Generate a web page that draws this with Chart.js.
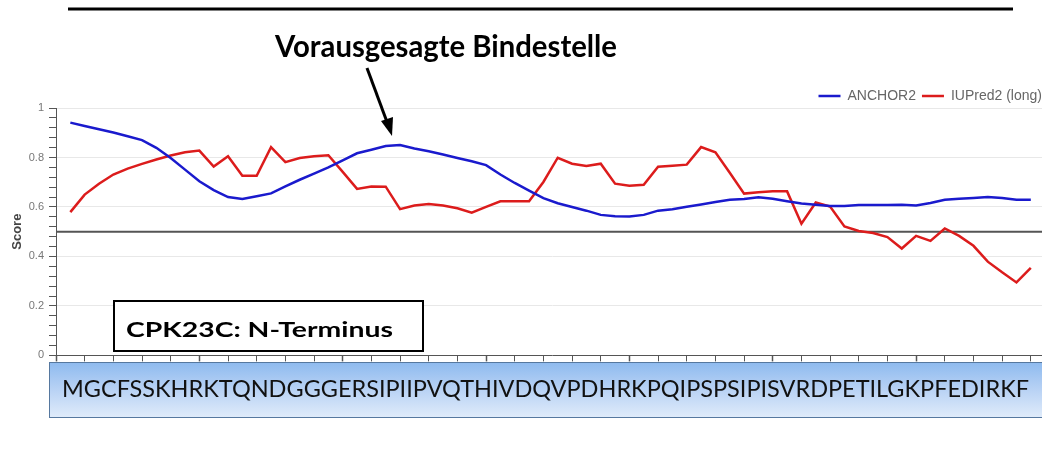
<!DOCTYPE html>
<html lang="de">
<head>
<meta charset="utf-8">
<title>CPK23C N-Terminus – ANCHOR2 / IUPred2</title>
<script src="https://cdn.jsdelivr.net/npm/chart.js@4.4.1/dist/chart.umd.min.js"></script>
<style>
  html, body { margin: 0; padding: 0; background: #fff; }
  #page { position: relative; width: 1042px; height: 463px; overflow: hidden; }
  #plotWrap { position: absolute; left: 0; top: 78px; width: 1048px; height: 289px; }
  .fit { position: absolute; white-space: nowrap; line-height: 1; transform-origin: 0 0; }
  #heading { left: 275px; top: 27px; font: 700 30px Lato, sans-serif; color: #000; }
  #protBox { position: absolute; left: 113px; top: 300px; width: 307px; height: 48px;
             border: 2.5px solid #000; background: #fff; }
  #protLabel { left: 11px; top: 14px; font: 700 21px Lato, sans-serif; color: #000; }
  #seqBand { position: absolute; left: 49px; top: 362px; width: 1010px; height: 54px;
             border: 1.5px solid #56789f;
             background: linear-gradient(to bottom, #8fbbef 0%, #b5d0f4 45%, #dfebfa 100%); }
  #seqText { left: 12px; top: 11px; font: 400 23px Lato, sans-serif; color: #111; }
  #deco { position: absolute; left: 0; top: 0; pointer-events: none; }
</style>
</head>
<body>
<div id="page">
  <div id="plotWrap"><canvas id="scoreChart"></canvas></div>

  <svg id="deco" width="1042" height="463">
    <line x1="68" y1="9" x2="1013" y2="9" stroke="#000" stroke-width="3"/>
    <line x1="367" y1="68" x2="387" y2="122" stroke="#000" stroke-width="3"/>
    <polygon points="392,136 381,121 393,117" fill="#000"/>
  </svg>

  <span id="heading" class="fit">Vorausgesagte Bindestelle</span>
  <div id="protBox"><span id="protLabel" class="fit">CPK23C: N-Terminus</span></div>
  <div id="seqBand"><span id="seqText" class="fit"></span></div>
</div>

<script>
// Protein sequence (residue 1 = first letter)
const SEQUENCE = 'MGCFSSKHRKTQNDGGGERSIPIIPVQTHIVDQVPDHRKPQIPSPSIPISVRDPETILGKPFEDIRKF';

// ANCHOR2 binding score per residue
const anchorScores = [
  0.941, 0.927, 0.914, 0.901, 0.886, 0.870, 0.839, 0.798, 0.751, 0.704,
  0.668, 0.640, 0.632, 0.643, 0.655, 0.683, 0.710, 0.735, 0.760, 0.788,
  0.817, 0.831, 0.846, 0.850, 0.836, 0.825, 0.812, 0.798, 0.785, 0.769,
  0.731, 0.697, 0.666, 0.636, 0.615, 0.600, 0.585, 0.568, 0.562, 0.561,
  0.568, 0.585, 0.591, 0.601, 0.610, 0.620, 0.629, 0.632, 0.639, 0.633,
  0.623, 0.614, 0.609, 0.604, 0.604, 0.608, 0.608, 0.608, 0.609, 0.606,
  0.616, 0.629, 0.633, 0.636, 0.640, 0.636, 0.629, 0.629
];

// IUPred2 (long) disorder score per residue
const iupredScores = [
  0.579, 0.650, 0.694, 0.731, 0.755, 0.774, 0.792, 0.808, 0.821, 0.828,
  0.763, 0.805, 0.726, 0.726, 0.842, 0.781, 0.798, 0.805, 0.809, 0.742,
  0.673, 0.683, 0.682, 0.591, 0.606, 0.612, 0.606, 0.595, 0.577, 0.600,
  0.623, 0.623, 0.623, 0.701, 0.799, 0.775, 0.766, 0.775, 0.694, 0.686,
  0.690, 0.763, 0.767, 0.771, 0.842, 0.821, 0.738, 0.654, 0.659, 0.663,
  0.663, 0.532, 0.618, 0.602, 0.521, 0.503, 0.495, 0.478, 0.432, 0.483,
  0.463, 0.513, 0.483, 0.443, 0.379, 0.336, 0.295, 0.354
];

const seriesNames = ['ANCHOR2', 'IUPred2 (long)'];
const seriesColors = ['#1a1acd', '#dc1c1c'];
const THRESHOLD = 0.5;
const X_MAX = 69.2;
const yTickValues = [0, 0.2, 0.4, 0.6, 0.8, 1];

const residues = Array.from(SEQUENCE, (_, i) => i + 1);
const toPoints = arr => arr.map((v, i) => ({ x: residues[i], y: v }));

const isMajor = v => yTickValues.some(t => Math.abs(t - v) < 1e-6);

// dark cut-off line at 0.5
const thresholdLine = {
  id: 'thresholdLine',
  beforeDatasetsDraw(chart) {
    const { ctx, chartArea, scales: { y } } = chart;
    const py = y.getPixelForValue(THRESHOLD);
    ctx.save();
    ctx.strokeStyle = '#555';
    ctx.lineWidth = 2;
    ctx.beginPath();
    ctx.moveTo(chartArea.left, py);
    ctx.lineTo(chartArea.right, py);
    ctx.stroke();
    ctx.restore();
  }
};

// push the legend a little closer to the plot
const legendNudge = {
  id: 'legendNudge',
  afterLayout(chart) {
    chart.legend.top += 5;
    chart.legend.bottom += 5;
  }
};

const chart = new Chart(document.getElementById('scoreChart'), {
  type: 'line',
  data: {
    datasets: [
      { label: seriesNames[0], data: toPoints(anchorScores) },
      { label: seriesNames[1], data: toPoints(iupredScores) }
    ].map((d, i) => ({
      ...d,
      borderColor: seriesColors[i],
      backgroundColor: seriesColors[i],
      borderWidth: 2.5,
      pointRadius: 0,
      tension: 0
    }))
  },
  options: {
    responsive: true,
    maintainAspectRatio: false,
    animation: false,
    layout: { padding: 0 },
    scales: {
      x: {
        type: 'linear',
        min: 0,
        max: X_MAX,
        border: { color: '#555', width: 1 },
        grid: {
          drawOnChartArea: false,
          tickLength: 6,
          tickColor: '#555',
          tickWidth: c => (c.tick && c.tick.value % 10 === 0 ? 1.5 : 1)
        },
        ticks: { display: false, stepSize: 2, autoSkip: false, includeBounds: false }
      },
      y: {
        min: 0,
        max: 1,
        afterFit: s => { s.width = 56; },
        border: { color: '#555', width: 1 },
        grid: {
          color: c => (c.tick && isMajor(c.tick.value) ? '#e8e8e8' : 'rgba(0,0,0,0)'),
          tickColor: '#555',
          tickLength: 7
        },
        ticks: {
          stepSize: 0.04,
          autoSkip: false,
          padding: 5,
          color: '#777',
          font: { family: 'Liberation Sans, Arial, sans-serif', size: 11 },
          callback: v => (isMajor(v) ? String(Math.round(v * 10) / 10) : '')
        },
        title: {
          display: true,
          text: 'Score',
          color: '#444',
          font: { family: 'Liberation Sans, Arial, sans-serif', size: 13, weight: 'bold' },
          padding: { top: 10, bottom: 4 }
        }
      }
    },
    plugins: {
      legend: {
        position: 'top',
        align: 'end',
        labels: {
          usePointStyle: true,
          pointStyle: 'line',
          pointStyleWidth: 22,
          padding: 6,
          color: '#666',
          font: { family: 'Liberation Sans, Arial, sans-serif', size: 14 }
        }
      },
      tooltip: { enabled: false }
    }
  },
  plugins: [thresholdLine, legendNudge]
});

// squeeze the annotation texts to their widths
document.getElementById('seqText').textContent = SEQUENCE;
function fitWidth(id, target) {
  const el = document.getElementById(id);
  const w = el.getBoundingClientRect().width;
  el.style.transform = 'scaleX(' + (target / w) + ')';
}
fitWidth('heading', 342);
fitWidth('protLabel', 267);
fitWidth('seqText', 967);
</script>
</body>
</html>
